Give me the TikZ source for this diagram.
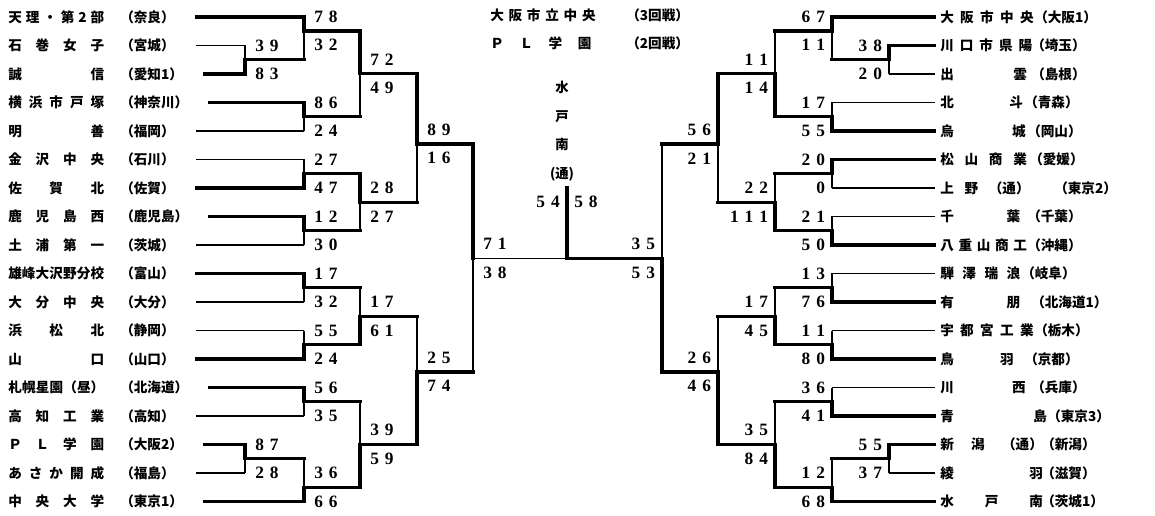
\documentclass[tikz,border=0pt]{standalone}
\usepackage{fontspec}
\newfontfamily\jp{Noto Sans CJK JP}
\newfontfamily\numfont{Liberation Serif}
% one leg of the bracket: horizontal to the join's x, then vertical to the join
\newcommand\leg[4]{%
  \draw[#3] (#1) -- (#1 -| #2);
  \draw[#4] (#1 -| #2) -- (#2);}
% spaced digits
\newcommand\dg[1]{{\spaceskip=4.5pt\relax #1}}
% scores beside a join, left and right half
\newcommand\lsc[3]{%
  \node[score, anchor=west] (#1t) at ([xshift=7.5pt,yshift=10.7pt]#1) {\dg{#2}};
  \node[score, anchor=west] (#1b) at ([xshift=7.5pt,yshift=-10.7pt]#1) {\dg{#3}};}
\newcommand\rsc[3]{%
  \node[score, anchor=east] (#1t) at ([xshift=-5pt,yshift=10.7pt]#1) {\dg{#2}};
  \node[score, anchor=east] (#1b) at ([xshift=-5pt,yshift=-10.7pt]#1) {\dg{#3}};}
\begin{document}
\begin{tikzpicture}[
    x=0.75pt, y=-0.75pt,
    win/.style={line width=2.3pt, line cap=rect},
    lose/.style={line width=0.9pt},
    tname/.style={anchor=west, inner sep=0pt, font=\jp\bfseries\fontsize{10.2}{12}\selectfont},
    score/.style={inner sep=0pt, font=\numfont\bfseries\fontsize{13}{13}\selectfont},
  ]
  \useasboundingbox (0,0) rectangle (1155,516);

  % left side teams
  \foreach \i/\nm/\pf in {
      1/{天 理 ・ 第 2 部}/奈良, 2/{石 巻 女 子}/宮城, 3/{誠 信}/愛知1,
      4/{横 浜 市 戸 塚}/神奈川, 5/{明 善}/福岡, 6/{金 沢 中 央}/石川,
      7/{佐 賀 北}/佐賀, 8/{鹿 児 島 西}/鹿児島, 9/{土 浦 第 一}/茨城,
      10/{雄 峰 大 沢 野 分 校}/富山, 11/{大 分 中 央}/大分, 12/{浜 松 北}/静岡,
      13/{山 口}/山口, 14/{札 幌 星 園 （昼）}/北海道, 15/{高 知 工 業}/高知,
      16/{Ｐ Ｌ 学 園}/大阪2, 17/{あ さ か 開 成}/福島, 18/{中 央 大 学}/東京1} {
    \node[tname] (L\i) at (8,{17+28.5*(\i-1)})
      {\makebox[72pt][s]{\spaceskip=0pt plus 1fil\relax\nm}};
    \node[tname] (LP\i) at (120,{17+28.5*(\i-1)}) {（\pf）};
    \coordinate (ls\i) at ([xshift=16pt]LP\i.east);
  }

  % right side teams
  \foreach \i/\nm/\w/\pf/\px in {
      1/{大 阪 市 中 央}/70/大阪1/1034, 2/{川 口 市 県 陽}/69/埼玉/1031,
      3/{出 雲}/65/島根/1031, 4/{北 斗}/62/青森/1024, 5/{烏 城}/64/岡山/1027,
      6/{松 山 商 業}/65/愛媛/1029, 7/{上 野 （通）}/67/東京2/1054,
      8/{千 葉}/60/千葉/1027, 9/{八 重 山 商 工}/65/沖縄/1027,
      10/{騨 澤 瑞 浪}/60/岐阜/1021, 11/{有 朋}/60/北海道1/1031,
      12/{宇 都 宮 工 業}/70/栃木/1034, 13/{鳥 羽}/55/京都/1024,
      14/{川 西}/64/兵庫/1031, 15/{青 島}/80/東京3/1047,
      16/{新 潟 （通）}/77/新潟/1041, 17/{綾 羽}/77/滋賀/1041,
      18/{水 戸 南}/77/茨城1/1041} {
    \node[tname] (R\i) at (940,{17+28.5*(\i-1)})
      {\makebox[\w pt][s]{\spaceskip=0pt plus 1fil\relax\nm}};
    \node[tname] (RP\i) at (\px,{17+28.5*(\i-1)}) {（\pf）};
    \coordinate (rs\i) at ([xshift=-4pt]R\i.west);
  }

  % heading and champion
  \node[tname] (hd1) at (490,15) {\makebox[79pt][s]{\spaceskip=0pt plus 1fil\relax 大 阪 市 立 中 央}};
  \node[tname] (hd1r) at (626,15) {（3回戦）};
  \node[tname] (hd2) at (490,43)
    {\makebox[76pt][s]{\spaceskip=0pt plus 1fil\relax Ｐ Ｌ 学 園}};
  \node[tname] (hd2r) at (626,43) {（2回戦）};
  \node[inner sep=0pt, align=center, font=\jp\bfseries\fontsize{10}{21.4}\selectfont] (champ) at (562,131)
    {水\\戸\\南\\(通)};

  % joins, left
  \coordinate (lp1) at (245,59.75);  \coordinate (lp2) at (245,458.75);
  \coordinate (lr1) at (304,31);     \coordinate (lr2) at (304,116.75);
  \coordinate (lr3) at (304,173.75); \coordinate (lr4) at (304,230.75);
  \coordinate (lr5) at (304,287.75); \coordinate (lr6) at (304,344.75);
  \coordinate (lr7) at (304,401.75); \coordinate (lr8) at (304,487.25);
  \coordinate (lq1) at (360,73.9);   \coordinate (lq2) at (360,202.25);
  \coordinate (lq3) at (360,316.25); \coordinate (lq4) at (360,444.5);
  \coordinate (lt1) at (417,144);    \coordinate (lt2) at (417,372);
  \coordinate (lsf) at (473,258.5);
  % joins, right
  \coordinate (rp1) at (889,59.75);  \coordinate (rp2) at (889,458.75);
  \coordinate (rr1) at (832,31);     \coordinate (rr2) at (832,116.75);
  \coordinate (rr3) at (832,173.75); \coordinate (rr4) at (832,230.75);
  \coordinate (rr5) at (832,287.75); \coordinate (rr6) at (832,344.75);
  \coordinate (rr7) at (832,401.75); \coordinate (rr8) at (832,487.25);
  \coordinate (rq1) at (775,73.9);   \coordinate (rq2) at (775,202.25);
  \coordinate (rq3) at (775,316.25); \coordinate (rq4) at (775,444.5);
  \coordinate (rt1) at (718,144);    \coordinate (rt2) at (718,372);
  \coordinate (rsf) at (662,258.5);
  \coordinate (fin) at (567,258.5);  \coordinate (fintop) at (567,188);

  % left bracket
  \leg{ls2}{lp1}{lose}{lose}  \leg{ls3}{lp1}{win}{win}
  \leg{ls1}{lr1}{win}{win}    \leg{lp1}{lr1}{win}{lose}
  \leg{ls4}{lr2}{win}{win}    \leg{ls5}{lr2}{lose}{lose}
  \leg{ls6}{lr3}{lose}{lose}  \leg{ls7}{lr3}{win}{win}
  \leg{ls8}{lr4}{win}{win}    \leg{ls9}{lr4}{lose}{lose}
  \leg{ls10}{lr5}{win}{win}   \leg{ls11}{lr5}{lose}{lose}
  \leg{ls12}{lr6}{lose}{lose} \leg{ls13}{lr6}{win}{win}
  \leg{ls14}{lr7}{win}{win}   \leg{ls15}{lr7}{lose}{lose}
  \leg{ls16}{lp2}{win}{win}   \leg{ls17}{lp2}{lose}{lose}
  \leg{lp2}{lr8}{win}{lose}   \leg{ls18}{lr8}{win}{win}
  \leg{lr1}{lq1}{win}{win}    \leg{lr2}{lq1}{win}{lose}
  \leg{lr3}{lq2}{win}{win}    \leg{lr4}{lq2}{win}{lose}
  \leg{lr5}{lq3}{win}{lose}   \leg{lr6}{lq3}{win}{win}
  \leg{lr7}{lq4}{win}{lose}   \leg{lr8}{lq4}{win}{win}
  \leg{lq1}{lt1}{win}{win}    \leg{lq2}{lt1}{win}{lose}
  \leg{lq3}{lt2}{win}{lose}   \leg{lq4}{lt2}{win}{win}
  \leg{lt1}{lsf}{win}{win}    \leg{lt2}{lsf}{win}{lose}
  \draw[lose] (lsf) -- (fin);

  % right bracket
  \leg{rs2}{rp1}{win}{win}    \leg{rs3}{rp1}{lose}{lose}
  \leg{rs1}{rr1}{win}{win}    \leg{rp1}{rr1}{win}{lose}
  \leg{rs4}{rr2}{lose}{lose}  \leg{rs5}{rr2}{win}{win}
  \leg{rs6}{rr3}{win}{win}    \leg{rs7}{rr3}{lose}{lose}
  \leg{rs8}{rr4}{lose}{lose}  \leg{rs9}{rr4}{win}{win}
  \leg{rs10}{rr5}{lose}{lose} \leg{rs11}{rr5}{win}{win}
  \leg{rs12}{rr6}{lose}{lose} \leg{rs13}{rr6}{win}{win}
  \leg{rs14}{rr7}{lose}{lose} \leg{rs15}{rr7}{win}{win}
  \leg{rs16}{rp2}{win}{win}   \leg{rs17}{rp2}{lose}{lose}
  \leg{rp2}{rr8}{win}{lose}   \leg{rs18}{rr8}{win}{win}
  \leg{rr1}{rq1}{win}{lose}   \leg{rr2}{rq1}{win}{win}
  \leg{rr3}{rq2}{win}{lose}   \leg{rr4}{rq2}{win}{win}
  \leg{rr5}{rq3}{win}{lose}   \leg{rr6}{rq3}{win}{win}
  \leg{rr7}{rq4}{win}{lose}   \leg{rr8}{rq4}{win}{win}
  \leg{rq1}{rt1}{win}{win}    \leg{rq2}{rt1}{win}{lose}
  \leg{rq3}{rt2}{win}{lose}   \leg{rq4}{rt2}{win}{win}
  \leg{rt1}{rsf}{win}{lose}   \leg{rt2}{rsf}{win}{win}
  \draw[win] (rsf) -- (fin);
  \draw[win] (fin) -- (fintop);

  % scores
  \lsc{lp1}{3 9}{8 3} \lsc{lp2}{8 7}{2 8}
  \lsc{lr1}{7 8}{3 2} \lsc{lr2}{8 6}{2 4} \lsc{lr3}{2 7}{4 7} \lsc{lr4}{1 2}{3 0}
  \lsc{lr5}{1 7}{3 2} \lsc{lr6}{5 5}{2 4} \lsc{lr7}{5 6}{3 5} \lsc{lr8}{3 6}{6 6}
  \lsc{lq1}{7 2}{4 9} \lsc{lq2}{2 8}{2 7} \lsc{lq3}{1 7}{6 1} \lsc{lq4}{3 9}{5 9}
  \lsc{lt1}{8 9}{1 6} \lsc{lt2}{2 5}{7 4}
  \lsc{lsf}{7 1}{3 8}
  \rsc{rp1}{3 8}{2 0} \rsc{rp2}{5 5}{3 7}
  \rsc{rr1}{6 7}{1 1} \rsc{rr2}{1 7}{5 5} \rsc{rr3}{2 0}{0}   \rsc{rr4}{2 1}{5 0}
  \rsc{rr5}{1 3}{7 6} \rsc{rr6}{1 1}{8 0} \rsc{rr7}{3 6}{4 1} \rsc{rr8}{1 2}{6 8}
  \rsc{rq1}{1 1}{1 4} \rsc{rq2}{2 2}{1 1 1} \rsc{rq3}{1 7}{4 5} \rsc{rq4}{3 5}{8 4}
  \rsc{rt1}{5 6}{2 1} \rsc{rt2}{2 6}{4 6}
  \rsc{rsf}{3 5}{5 3}
  \node[score, anchor=east] (fsl) at (560,202) {\dg{5 4}};
  \node[score, anchor=west] (fsr) at (574,202) {\dg{5 8}};
\end{tikzpicture}
\end{document}
